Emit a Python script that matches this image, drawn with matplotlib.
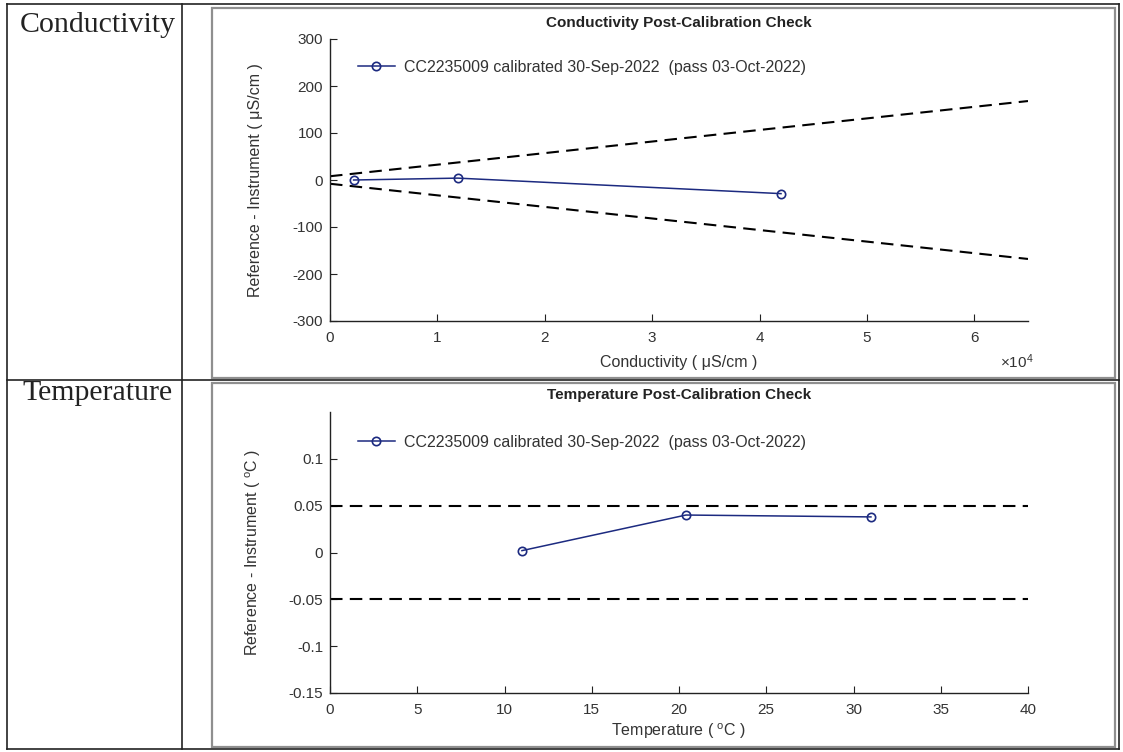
import matplotlib
matplotlib.use("Agg")
import matplotlib.pyplot as plt
from matplotlib.patches import Rectangle
from matplotlib.ticker import FuncFormatter

plt.rcParams['font.family'] = ['Liberation Sans', 'DejaVu Sans']
plt.rcParams['mathtext.fontset'] = 'custom'
plt.rcParams['mathtext.rm'] = 'Liberation Sans'
plt.rcParams['mathtext.it'] = 'Liberation Sans:italic'
plt.rcParams['axes.unicode_minus'] = False

# Conductivity check: reference - instrument vs conductivity (uS/cm)
cond_x = [2200, 11900, 42000]
cond_y = [0, 4, -29]
cond_tol_x = [0, 65000]
cond_tol_hi = [8, 168]
cond_tol_lo = [-8, -168]
cond_xticks = [0, 10000, 20000, 30000, 40000, 50000, 60000]
cond_yticks = [-300, -200, -100, 0, 100, 200, 300]

# Temperature check: reference - instrument vs temperature (deg C)
temp_x = [11.0, 20.4, 31.0]
temp_y = [0.002, 0.040, 0.038]
temp_tol_x = [0, 40]
temp_tol_hi = [0.05, 0.05]
temp_tol_lo = [-0.05, -0.05]
temp_xticks = [0, 5, 10, 15, 20, 25, 30, 35, 40]
temp_yticks = [-0.15, -0.1, -0.05, 0, 0.05, 0.1]

row_names = ["Conductivity", "Temperature"]
legend_label = "CC2235009 calibrated 30-Sep-2022  (pass 03-Oct-2022)"

W, H = 1123, 752
LINE_COL = '#1c2a80'
TXT = '#333333'

fig = plt.figure(figsize=(W / 100, H / 100), dpi=100)

# background layer in pixel coordinates for the table and the figure frames
bg = fig.add_axes([0, 0, 1, 1])
bg.set_xlim(0, W)
bg.set_ylim(H, 0)
bg.axis('off')
for xs, ys in [([7, 1119], [4, 4]), ([7, 1119], [749, 749]), ([7, 7], [4, 749]),
               ([1119, 1119], [4, 749]), ([182, 182], [4, 749]), ([7, 1119], [380, 380])]:
    bg.plot(xs, ys, color='#222222', lw=1.2)
bg.add_patch(Rectangle((212, 8), 903, 370, fill=False, ec='#8f8f8f', lw=1.6))
bg.add_patch(Rectangle((212, 383), 903, 364, fill=False, ec='#8f8f8f', lw=1.6))
bg.text(20, 25, row_names[0], family='Liberation Serif', fontsize=21.5, va='center', color='#222')
bg.text(22, 393, row_names[1], family='Liberation Serif', fontsize=21.5, va='center', color='#222')


def px_axes(left, top, right, bottom):
    return fig.add_axes([left / W, 1 - bottom / H, (right - left) / W, (bottom - top) / H])


def style(ax):
    for s in ['top', 'right']:
        ax.spines[s].set_visible(False)
    for s in ['left', 'bottom']:
        ax.spines[s].set_color('#222222')
        ax.spines[s].set_linewidth(1.0)
    ax.tick_params(direction='in', length=5, width=0.8, colors='#222222',
                   labelcolor=TXT, labelsize=11)
    ax.tick_params(axis='x', pad=7)
    ax.tick_params(axis='y', pad=5)
    ax.patch.set_alpha(0)


def add_legend(ax, ypos):
    ax.legend(frameon=False, loc='center left', bbox_to_anchor=(0.04, ypos),
              borderpad=0, borderaxespad=0, handlelength=2.3, handletextpad=0.6,
              fontsize=11.5, labelcolor=TXT)


# --- conductivity panel ---
ax1 = px_axes(330, 39, 1028, 321)
style(ax1)
ax1.plot(cond_tol_x, cond_tol_hi, color='black', lw=1.5, ls=(0, (6, 3.5)))
ax1.plot(cond_tol_x, cond_tol_lo, color='black', lw=1.5, ls=(0, (6, 3.5)))
ax1.plot(cond_x, cond_y, color=LINE_COL, lw=1.1, marker='o', ms=6, mfc='none',
         mec=LINE_COL, mew=1.2, label=legend_label)
ax1.set_xlim(0, 65000)
ax1.set_ylim(-300, 300)
ax1.set_xticks(cond_xticks)
ax1.set_yticks(cond_yticks)
ax1.xaxis.set_major_formatter(FuncFormatter(lambda v, p: '%g' % (v / 1e4)))
ax1.set_title('Conductivity Post-Calibration Check', fontsize=11, fontweight='bold',
              pad=9, color='#222')
ax1.set_xlabel('Conductivity ( μS/cm )', fontsize=11.5, color=TXT)
ax1.xaxis.set_label_coords(0.5, -0.12)
ax1.set_ylabel('Reference - Instrument ( μS/cm )', fontsize=11.5, color=TXT)
ax1.yaxis.set_label_coords(-0.096, 0.5)
ax1.text(0.984, -0.145, r'$\times10^{4}$', transform=ax1.transAxes, ha='center',
         va='center', fontsize=11, color=TXT)
add_legend(ax1, 0.90)

# --- temperature panel ---
ax2 = px_axes(330, 412, 1028, 693)
style(ax2)
ax2.plot(temp_tol_x, temp_tol_hi, color='black', lw=1.5, ls=(0, (6, 3.5)))
ax2.plot(temp_tol_x, temp_tol_lo, color='black', lw=1.5, ls=(0, (6, 3.5)))
ax2.plot(temp_x, temp_y, color=LINE_COL, lw=1.1, marker='o', ms=6, mfc='none',
         mec=LINE_COL, mew=1.2, label=legend_label)
ax2.set_xlim(0, 40)
ax2.set_ylim(-0.15, 0.15)
ax2.set_xticks(temp_xticks)
ax2.set_yticks(temp_yticks)
ax2.yaxis.set_major_formatter(FuncFormatter(lambda v, p: '%g' % round(v, 2)))
ax2.set_title('Temperature Post-Calibration Check', fontsize=11, fontweight='bold',
              pad=9, color='#222')
ax2.set_xlabel(r'Temperature ( $^{\rm o}$C )', fontsize=11.5, color=TXT)
ax2.xaxis.set_label_coords(0.5, -0.1)
ax2.set_ylabel(r'Reference - Instrument ( $^{\rm o}$C )', fontsize=11.5, color=TXT)
ax2.yaxis.set_label_coords(-0.096, 0.5)
add_legend(ax2, 0.893)

fig.savefig('out.png', dpi=100)
